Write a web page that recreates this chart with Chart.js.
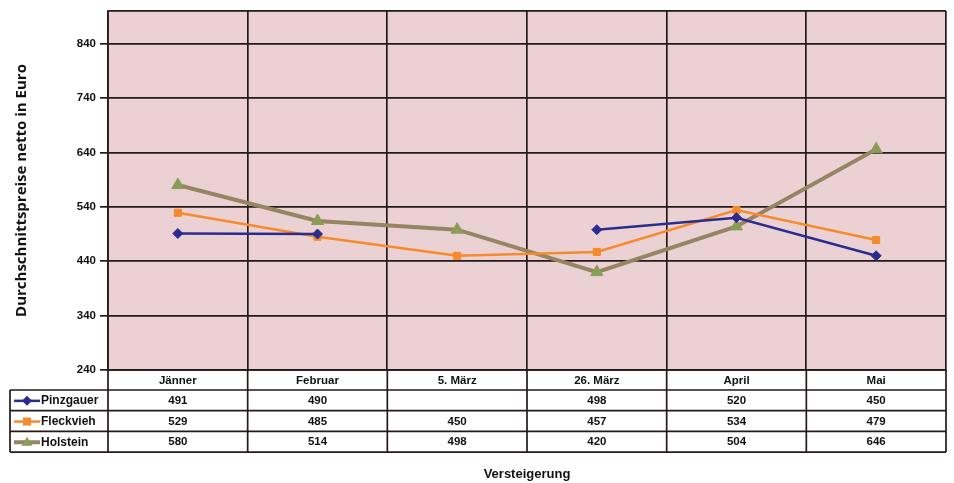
<!DOCTYPE html>
<html>
<head>
<meta charset="utf-8">
<script src="https://cdn.jsdelivr.net/npm/chart.js@4"></script>
<style>
  html, body { margin: 0; padding: 0; background: #fff; }
  #wrap { width: 954px; height: 483px; }
</style>
</head>
<body>
<div id="wrap"><canvas id="myChart"></canvas></div>
<script>
var labels = ["Jänner", "Februar", "5. März", "26. März", "April", "Mai"];
var pinzgauer = [491, 490, null, 498, 520, 450];
var fleckvieh = [529, 485, 450, 457, 534, 479];
var holstein = [580, 514, 498, 420, 504, 646];
var yTicks = [240, 340, 440, 540, 640, 740, 840];
var yMax = 900;

var gridColor = "#241a1a";
var gridWidth = 1.7;
var tableFont = "bold 11.5px 'Liberation Sans', Arial, sans-serif";

// draw a small marker for the table legend
function marker(ctx, style, x, y, r, color) {
  ctx.save();
  ctx.fillStyle = color;
  ctx.beginPath();
  if (style == "rectRot") {
    ctx.moveTo(x, y - r); ctx.lineTo(x + r, y); ctx.lineTo(x, y + r); ctx.lineTo(x - r, y);
  } else if (style == "rect") {
    ctx.rect(x - r * 0.8, y - r * 0.8, r * 1.6, r * 1.6);
  } else {
    ctx.moveTo(x, y - r * 0.8); ctx.lineTo(x + r * 0.8, y + r * 0.5); ctx.lineTo(x - r * 0.8, y + r * 0.5);
  }
  ctx.closePath();
  ctx.fill();
  ctx.restore();
}

var plotBg = {
  id: "plotBg",
  beforeDraw: function(chart) {
    var a = chart.chartArea, ctx = chart.ctx;
    ctx.save();
    ctx.fillStyle = "#ecd1d4";
    ctx.fillRect(a.left, a.top, a.right - a.left, a.bottom - a.top);
    ctx.restore();
  }
};

var dataTable = {
  id: "dataTable",
  afterDraw: function(chart) {
    var a = chart.chartArea, ctx = chart.ctx;
    var n = labels.length;
    var cw = (a.right - a.left) / n;
    var headBottom = a.bottom + 20;
    var rowH = 20.7;
    var tableLeft = 10;
    var tableBottom = headBottom + rowH * 3;
    ctx.save();
    ctx.strokeStyle = gridColor;
    ctx.lineWidth = gridWidth;
    ctx.beginPath();
    for (var r = 0; r <= 3; r++) {
      var yy = headBottom + rowH * r;
      ctx.moveTo(tableLeft, yy); ctx.lineTo(a.right, yy);
    }
    ctx.moveTo(tableLeft, headBottom); ctx.lineTo(tableLeft, tableBottom);
    for (var i = 0; i <= n; i++) {
      var xx = a.left + cw * i;
      ctx.moveTo(xx, a.bottom); ctx.lineTo(xx, tableBottom);
    }
    ctx.stroke();

    ctx.font = tableFont;
    ctx.fillStyle = "#111";
    ctx.textAlign = "center";
    ctx.textBaseline = "middle";
    chart.data.datasets.forEach(function(ds, r) {
      var cy = headBottom + rowH * r + rowH / 2 + 0.5;
      ds.data.forEach(function(v, i) {
        if (v !== null) ctx.fillText(String(v), a.left + cw * i + cw / 2, cy);
      });
      // legend key
      ctx.save();
      ctx.strokeStyle = ds.borderColor;
      ctx.lineWidth = ds.borderWidth;
      ctx.beginPath();
      ctx.moveTo(14, cy); ctx.lineTo(40, cy);
      ctx.stroke();
      marker(ctx, ds.pointStyle, 27, cy, ds.pointRadius, ds.pointBackgroundColor);
      ctx.restore();
      ctx.textAlign = "left";
      ctx.font = "bold 12px 'Liberation Sans', Arial, sans-serif";
      ctx.fillText(ds.label, 41, cy);
      ctx.textAlign = "center";
      ctx.font = tableFont;
    });
    ctx.restore();
  }
};

new Chart("myChart", {
  type: "line",
  data: {
    labels: labels,
    datasets: [
      {
        label: "Pinzgauer",
        data: pinzgauer,
        borderColor: "#2b2d8e",
        borderWidth: 2.5,
        pointStyle: "rectRot",
        pointRadius: 5,
        pointBackgroundColor: "#2b2d8e",
        pointBorderColor: "#2b2d8e",
        pointBorderWidth: 1
      },
      {
        label: "Fleckvieh",
        data: fleckvieh,
        borderColor: "#f68b2c",
        borderWidth: 2.5,
        pointStyle: "rect",
        pointRadius: 5,
        pointBackgroundColor: "#f68b2c",
        pointBorderColor: "#f68b2c",
        pointBorderWidth: 1
      },
      {
        label: "Holstein",
        data: holstein,
        borderColor: "#978462",
        borderWidth: 4,
        pointStyle: "triangle",
        pointRadius: 7,
        pointBackgroundColor: "#8a9d56",
        pointBorderColor: "#8a9d56",
        pointBorderWidth: 1
      }
    ]
  },
  options: {
    responsive: true,
    maintainAspectRatio: false,
    animation: false,
    layout: { padding: { left: 0, right: 6, top: 11, bottom: 0 } },
    plugins: {
      legend: { display: false },
      tooltip: { enabled: false }
    },
    scales: {
      x: {
        type: "category",
        offset: true,
        grid: { offset: true, color: gridColor, lineWidth: gridWidth, drawTicks: false },
        border: { color: gridColor, width: gridWidth },
        ticks: {
          color: "#111",
          padding: 4,
          maxRotation: 0,
          font: { family: "'Liberation Sans', Arial, sans-serif", size: 11.5, weight: "bold" }
        },
        title: {
          display: true,
          text: "Versteigerung",
          color: "#111",
          padding: { top: 0, bottom: 1 },
          font: { family: "'Liberation Sans', Arial, sans-serif", size: 13, weight: "bold" }
        },
        afterFit: function(scale) { scale.height = 113; }
      },
      y: {
        min: 240,
        max: yMax,
        grid: {
          color: gridColor,
          lineWidth: gridWidth,
          tickLength: 8,
          tickColor: function(c) { return c.tick && c.tick.value == yMax ? "rgba(0,0,0,0)" : gridColor; }
        },
        border: { color: gridColor, width: gridWidth },
        afterBuildTicks: function(scale) {
          scale.ticks = yTicks.concat([yMax]).map(function(v) { return { value: v }; });
        },
        ticks: {
          color: "#111",
          padding: 4,
          font: { family: "'Liberation Sans', Arial, sans-serif", size: 11.5, weight: "bold" },
          callback: function(v) { return v == yMax ? "" : v; }
        },
        title: {
          display: true,
          text: "Durchschnittspreise netto in Euro",
          color: "#111",
          padding: { top: 13, bottom: 0 },
          font: { family: "'Open Sans', sans-serif", size: 15, weight: "bold" }
        },
        afterFit: function(scale) { scale.width = 108; }
      }
    }
  },
  plugins: [plotBg, dataTable]
});
</script>
</body>
</html>
